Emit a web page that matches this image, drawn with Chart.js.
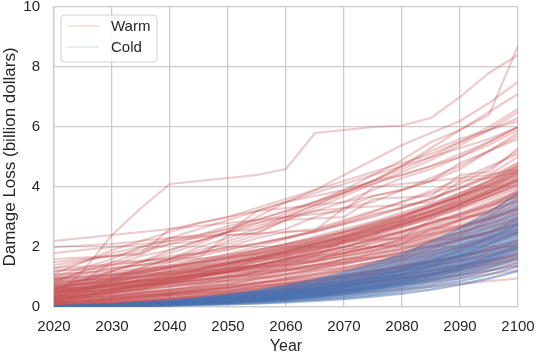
<!DOCTYPE html>
<html><head><meta charset="utf-8">
<script src="https://cdn.jsdelivr.net/npm/chart.js@4/dist/chart.umd.min.js"></script>
<style>html,body{margin:0;padding:0;background:#fff}#wrap{width:536px;height:355px}</style>
</head><body><div id="wrap"><canvas id="c" width="536" height="355"></canvas></div>
<script>
const years = [2020,2025,2030,2035,2040,2045,2050,2055,2060,2065,2070,2075,2080,2085,2090,2095,2100];
const xTicks = [2020,2030,2040,2050,2060,2070,2080,2090,2100];
const yTicks = [0,2,4,6,8,10];
const seriesLabels = ['Warm','Cold'];
const xTitle = 'Year';
const yTitle = 'Damage Loss (billion dollars)';

const warmSeries = [
[0.02,0.04,0.07,0.1,0.13,0.17,0.21,0.26,0.31,0.37,0.44,0.51,0.59,0.68,0.77,0.86,0.95],
[0.04,0.06,0.09,0.13,0.17,0.22,0.27,0.33,0.4,0.47,0.55,0.64,0.74,0.84,0.96,1.1,1.22],
[0.08,0.1,0.13,0.17,0.21,0.26,0.32,0.38,0.45,0.53,0.62,0.71,0.82,0.94,1.07,1.22,1.38],
[0.01,0.03,0.06,0.1,0.14,0.19,0.25,0.31,0.38,0.46,0.55,0.65,0.77,0.9,1.05,1.22,1.4],
[0.12,0.15,0.19,0.23,0.28,0.33,0.39,0.46,0.53,0.6,0.7,0.8,0.91,1.03,1.17,1.33,1.5],
[0.18,0.21,0.25,0.3,0.35,0.4,0.46,0.53,0.6,0.68,0.77,0.87,0.98,1.1,1.24,1.4,1.58],
[0.05,0.08,0.12,0.17,0.22,0.28,0.35,0.42,0.5,0.6,0.7,0.82,0.95,1.1,1.27,1.45,1.65],
[0.25,0.28,0.32,0.37,0.42,0.47,0.53,0.6,0.68,0.76,0.86,0.96,1.08,1.2,1.35,1.52,1.7],
[0.1,0.14,0.19,0.24,0.3,0.37,0.44,0.52,0.61,0.71,0.82,0.94,1.07,1.22,1.38,1.56,1.76],
[0.32,0.35,0.4,0.44,0.5,0.56,0.62,0.7,0.78,0.88,0.98,1.1,1.23,1.37,1.53,1.7,1.9],
[0.15,0.19,0.24,0.3,0.37,0.44,0.52,0.61,0.71,0.82,0.94,1.07,1.21,1.37,1.54,1.73,1.95],
[0.06,0.1,0.15,0.21,0.28,0.36,0.45,0.55,0.66,0.78,0.91,1.05,1.21,1.38,1.57,1.78,2.0],
[0.4,0.43,0.47,0.52,0.58,0.64,0.71,0.79,0.88,0.98,1.09,1.21,1.35,1.5,1.67,1.86,2.06],
[0.2,0.25,0.31,0.37,0.44,0.52,0.6,0.7,0.8,0.92,1.05,1.19,1.34,1.51,1.7,1.9,2.12],
[0.03,0.08,0.14,0.21,0.29,0.38,0.48,0.6,0.73,0.87,1.03,1.2,1.4,1.62,1.86,2.12,2.4],
[0.28,0.33,0.4,0.47,0.55,0.64,0.74,0.85,0.97,1.1,1.25,1.41,1.59,1.79,2.0,2.24,2.5],
[0.48,0.52,0.57,0.63,0.7,0.78,0.87,0.97,1.08,1.2,1.34,1.49,1.66,1.85,2.06,2.3,2.55],
[0.14,0.2,0.27,0.35,0.44,0.54,0.65,0.78,0.92,1.07,1.24,1.42,1.62,1.84,2.08,2.34,2.62],
[0.36,0.42,0.49,0.57,0.66,0.76,0.87,0.99,1.12,1.27,1.43,1.6,1.8,2.01,2.25,2.5,2.78],
[0.6,0.64,0.7,0.76,0.84,0.92,1.01,1.12,1.23,1.36,1.5,1.66,1.84,2.04,2.26,2.5,2.76],
[0.09,0.15,0.23,0.32,0.42,0.53,0.66,0.8,0.95,1.12,1.3,1.5,1.72,1.96,2.22,2.5,2.82],
[0.22,0.3,0.38,0.47,0.57,0.68,0.8,0.94,1.09,1.25,1.43,1.63,1.84,2.08,2.34,2.62,2.92],
[0.5,0.56,0.63,0.71,0.8,0.9,1.01,1.13,1.26,1.41,1.57,1.75,1.94,2.15,2.4,2.66,2.95],
[0.75,0.78,0.84,0.9,0.98,1.07,1.17,1.28,1.4,1.54,1.69,1.86,2.04,2.25,2.48,2.73,3.0],
[0.12,0.19,0.28,0.38,0.49,0.62,0.76,0.92,1.09,1.28,1.48,1.7,1.94,2.2,2.48,2.78,3.1],
[0.33,0.4,0.48,0.58,0.68,0.8,0.93,1.07,1.22,1.39,1.57,1.77,1.99,2.23,2.5,2.8,3.12],
[0.42,0.5,0.58,0.68,0.79,0.91,1.04,1.18,1.34,1.51,1.7,1.9,2.12,2.37,2.64,2.93,3.25],
[0.65,0.7,0.78,0.86,0.96,1.06,1.18,1.31,1.45,1.61,1.78,1.97,2.18,2.42,2.68,2.96,3.28],
[0.18,0.26,0.35,0.46,0.58,0.71,0.86,1.02,1.2,1.4,1.61,1.84,2.09,2.36,2.66,2.98,3.32],
[0.85,0.88,0.93,1.0,1.08,1.17,1.27,1.39,1.52,1.66,1.82,2.0,2.2,2.43,2.68,2.96,3.28],
[0.27,0.36,0.46,0.57,0.7,0.84,0.99,1.16,1.34,1.54,1.76,2.0,2.26,2.54,2.84,3.16,3.5],
[0.55,0.63,0.72,0.82,0.94,1.07,1.21,1.36,1.53,1.72,1.92,2.14,2.38,2.64,2.92,3.22,3.56],
[0.38,0.48,0.6,0.73,0.87,1.02,1.19,1.37,1.57,1.78,2.01,2.26,2.53,2.82,3.14,3.48,3.84],
[0.95,1.0,1.07,1.15,1.25,1.36,1.48,1.62,1.77,1.94,2.12,2.33,2.55,2.8,3.07,3.36,3.68],
[0.7,0.78,0.88,0.99,1.12,1.26,1.41,1.58,1.76,1.96,2.18,2.42,2.67,2.95,3.25,3.58,3.94],
[0.24,0.35,0.48,0.63,0.8,0.98,1.18,1.4,1.63,1.88,2.15,2.44,2.75,3.08,3.44,3.82,4.22],
[1.1,1.14,1.2,1.28,1.38,1.5,1.63,1.78,1.94,2.12,2.32,2.54,2.78,3.05,3.34,3.66,4.0],
[0.5,0.62,0.75,0.9,1.06,1.24,1.43,1.64,1.86,2.1,2.36,2.64,2.94,3.26,3.62,4.0,4.4],
[0.9,0.98,1.08,1.2,1.34,1.49,1.66,1.84,2.04,2.26,2.5,2.76,3.04,3.35,3.68,4.04,4.44],
[1.3,1.35,1.42,1.52,1.64,1.78,1.94,2.12,2.32,2.54,2.78,3.04,3.32,3.62,3.96,4.32,4.7],
[0.62,0.78,0.95,1.13,1.33,1.54,1.77,2.01,2.27,2.55,2.85,3.17,3.51,3.87,4.26,4.68,5.1],
[0.8,0.85,1.5,1.55,1.6,1.65,2.4,2.45,2.5,2.55,3.3,3.35,3.4,3.5,4.2,4.3,4.5],
[1.6,1.65,1.7,1.75,2.3,2.35,2.4,2.45,2.9,2.95,3.0,3.6,3.65,3.7,4.4,4.5,5.3],
[0.2,0.5,0.9,1.3,1.6,2.0,2.3,2.6,3.0,3.4,3.8,4.2,4.4,4.7,5.0,5.5,6.0],
[1.0,1.3,1.6,2.0,2.3,2.6,2.9,3.2,3.5,3.7,3.9,4.2,4.7,5.2,5.6,5.9,6.2],
[0.3,1.2,2.4,3.3,4.1,4.2,4.3,4.4,4.6,5.8,5.9,6.0,6.05,6.3,7.0,7.8,8.4],
[2.0,2.05,2.1,2.2,2.3,2.4,2.6,2.8,3.0,3.4,3.8,4.2,4.7,5.3,5.9,6.5,7.1],
[0.5,0.8,1.2,1.5,1.8,2.1,2.5,3.0,3.5,3.9,4.4,4.9,5.4,5.8,6.2,6.8,7.5],
[0.6,0.9,1.2,1.5,1.9,2.2,2.5,2.8,3.1,3.5,3.9,4.4,4.9,5.5,5.9,6.4,8.7],
[1.4,1.55,1.7,1.9,2.1,2.35,2.6,2.9,3.2,3.5,3.85,4.2,4.6,5.0,5.5,6.0,6.6],
[0.3,0.6,0.9,1.2,1.5,1.8,2.2,2.5,2.9,3.3,3.7,4.1,4.5,4.9,5.4,5.9,6.5],
[0.1,0.3,0.35,0.5,0.55,0.7,0.75,0.95,1.0,1.2,1.3,1.5,1.7,1.9,2.3,2.5,2.9],
[0.5,0.55,0.8,0.85,0.9,1.1,1.15,1.2,1.5,1.55,1.9,2.0,2.1,2.6,2.7,3.0,3.6],
[0.05,0.1,0.2,0.25,0.4,0.45,0.5,0.7,0.75,0.8,1.0,1.1,1.4,1.5,1.6,2.0,2.2],
[0.3,0.6,0.65,0.7,0.9,1.0,1.3,1.35,1.4,1.7,1.8,2.2,2.3,2.5,2.9,3.3,3.9],
[0.7,0.75,0.8,1.1,1.15,1.2,1.25,1.6,1.65,1.7,2.2,2.25,2.3,2.9,3.0,3.1,3.8],
[0.15,0.2,0.3,0.4,0.45,0.6,0.65,0.8,0.9,1.0,1.2,1.3,1.5,1.7,2.0,2.3,2.6],
[0.2,0.4,0.6,0.7,0.9,1.1,1.2,1.5,1.7,1.9,2.2,2.4,2.8,3.1,3.4,3.9,4.5],
[0.02,0.05,0.1,0.2,0.3,0.35,0.45,0.5,0.6,0.75,0.85,0.95,1.1,1.3,1.4,1.6,1.8],
[0.6,0.9,1.0,1.1,1.3,1.4,1.6,1.8,2.0,2.2,2.5,2.7,3.0,3.4,3.7,4.2,4.8],
[0.35,0.4,0.5,0.7,0.75,0.8,1.0,1.05,1.3,1.4,1.5,1.8,1.9,2.2,2.4,2.9,3.2],
[0.9,1.1,1.3,1.4,1.6,1.8,2.0,2.3,2.5,2.6,2.9,3.2,3.5,3.8,4.1,4.6,5.2],
[0.08,0.15,0.22,0.3,0.4,0.5,0.55,0.65,0.8,0.9,1.0,1.15,1.3,1.45,1.7,1.9,2.1],
[0.45,0.5,0.55,0.6,0.8,0.85,0.9,1.2,1.25,1.3,1.6,1.65,1.7,2.2,2.3,2.4,3.0],
[1.2,1.3,1.4,1.5,1.7,1.8,2.0,2.1,2.3,2.5,2.8,3.1,3.3,3.6,4.0,4.4,5.0],
[0.25,0.35,0.5,0.65,0.75,0.9,1.05,1.2,1.4,1.55,1.8,2.0,2.3,2.6,2.9,3.2,3.7],
[0.55,0.6,0.7,0.75,0.85,1.0,1.1,1.25,1.4,1.5,1.7,1.9,2.1,2.3,2.6,2.9,3.3],
[0.12,0.18,0.3,0.36,0.48,0.56,0.68,0.8,0.92,1.06,1.2,1.36,1.56,1.74,1.96,2.2,2.45],
[0.8,1.2,1.5,1.8,2.1,2.2,2.5,2.6,2.9,3.2,3.3,3.7,3.9,4.2,4.6,5.2,5.7],
[0.04,0.08,0.12,0.18,0.24,0.3,0.4,0.48,0.56,0.66,0.78,0.9,1.04,1.2,1.36,1.55,1.75],
[0.65,0.68,0.75,0.82,0.9,1.05,1.2,1.3,1.45,1.62,1.8,2.0,2.25,2.45,2.75,3.05,3.4],
[1.5,1.6,1.7,1.8,2.6,2.7,2.8,2.9,3.0,3.1,3.2,4.0,4.1,4.2,4.3,4.4,4.6],
[0.4,0.7,1.0,1.3,1.6,1.9,2.1,2.4,2.6,3.0,3.3,3.5,3.9,4.3,4.7,5.2,5.8],
[0.2,0.22,0.26,0.32,0.38,0.46,0.55,0.64,0.74,0.86,1.0,1.14,1.3,1.48,1.68,1.9,2.15],
[1.8,1.9,2.0,2.1,2.2,2.3,2.5,3.2,3.3,3.4,3.5,3.7,3.9,4.2,4.8,5.2,5.6],
[0.1,0.12,0.16,0.2,0.26,0.32,0.38,0.46,0.54,0.63,0.73,0.84,0.96,1.1,1.25,1.42,1.6],
[0.75,0.9,1.05,1.2,1.4,1.6,1.7,1.9,2.1,2.3,2.5,2.8,3.1,3.4,3.8,4.2,4.6],
[0.3,0.32,0.36,0.42,0.48,0.55,0.63,0.72,0.82,0.94,1.06,1.2,1.36,1.54,1.74,1.96,2.22],
[1.1,1.5,1.9,2.2,2.5,2.8,3.0,3.3,3.6,3.9,4.2,4.5,4.8,5.1,5.5,5.9,6.3],
[0.58,0.62,0.68,0.74,0.82,0.9,0.98,1.08,1.2,1.32,1.46,1.62,1.8,2.0,2.22,2.46,2.72],
[0.0,0.03,0.07,0.12,0.18,0.25,0.32,0.4,0.49,0.59,0.7,0.82,0.96,1.12,1.3,1.5,1.72],
[0.6,0.7,0.85,1.0,1.1,1.25,1.4,1.6,1.8,2.0,2.2,2.45,2.7,3.0,3.3,3.7,4.1],
[0.3,0.45,0.6,0.8,0.95,1.1,1.3,1.5,1.7,1.9,2.15,2.4,2.7,3.0,3.4,3.8,4.3],
[0.9,0.95,1.05,1.15,1.3,1.45,1.6,1.75,1.95,2.15,2.35,2.6,2.85,3.15,3.45,3.8,4.2],
[0.45,0.6,0.75,0.9,1.05,1.2,1.4,1.6,1.8,2.05,2.3,2.55,2.85,3.2,3.55,3.95,4.4],
[0.7,0.8,0.9,1.0,1.2,1.3,1.5,1.7,1.85,2.1,2.3,2.6,2.9,3.2,3.6,4.0,4.5],
[0.2,0.35,0.55,0.75,0.95,1.15,1.35,1.55,1.75,2.0,2.25,2.5,2.8,3.1,3.45,3.8,4.2],
[1.0,1.05,1.15,1.25,1.35,1.5,1.65,1.8,2.0,2.2,2.4,2.65,2.9,3.2,3.5,3.85,4.25],
[0.5,0.55,0.7,0.9,1.0,1.1,1.3,1.4,1.6,1.8,2.0,2.3,2.5,2.8,3.1,3.4,3.8],
[0.8,0.9,1.0,1.15,1.3,1.45,1.65,1.85,2.05,2.25,2.5,2.75,3.05,3.35,3.7,4.05,4.5],
[0.35,0.5,0.65,0.8,1.0,1.2,1.35,1.55,1.8,2.0,2.25,2.5,2.75,3.05,3.4,3.75,4.15],
[0.65,0.75,0.85,1.0,1.15,1.3,1.45,1.65,1.85,2.05,2.25,2.5,2.75,3.05,3.35,3.7,4.05],
[0.15,0.3,0.45,0.6,0.8,1.0,1.15,1.35,1.55,1.75,2.0,2.25,2.5,2.8,3.1,3.45,3.85],
[1.2,1.25,1.3,1.4,1.5,1.6,1.75,1.9,2.1,2.3,2.55,2.8,3.05,3.35,3.7,4.1,4.55],
[0.55,0.65,0.8,0.95,1.1,1.25,1.45,1.65,1.85,2.1,2.35,2.6,2.9,3.2,3.55,3.9,4.35],
[0.4,0.5,0.6,0.75,0.9,1.05,1.2,1.4,1.6,1.8,2.0,2.25,2.5,2.75,3.05,3.4,3.75],
[0.85,0.9,0.95,1.05,1.2,1.35,1.5,1.7,1.9,2.1,2.35,2.65,2.95,3.3,3.65,4.05,4.6],
[0.25,0.4,0.55,0.7,0.85,1.0,1.2,1.4,1.6,1.85,2.1,2.35,2.65,2.95,3.3,3.7,4.1],
[0.75,0.85,0.95,1.05,1.2,1.4,1.55,1.75,1.95,2.2,2.45,2.7,3.0,3.35,3.7,4.1,4.6],
[0.5,0.6,0.75,0.9,1.05,1.25,1.45,1.65,1.9,2.15,2.4,2.7,3.0,3.35,3.75,4.15,4.7],
[0.95,1.0,1.1,1.2,1.35,1.5,1.7,1.9,2.1,2.35,2.6,2.85,3.15,3.45,3.8,4.2,4.7],
[0.3,0.4,0.55,0.7,0.85,1.0,1.15,1.3,1.5,1.7,1.9,2.1,2.35,2.6,2.9,3.2,3.55],
[0.6,0.65,0.75,0.85,0.95,1.1,1.25,1.4,1.6,1.8,2.0,2.2,2.45,2.7,3.0,3.35,3.7],
[1.05,1.15,1.25,1.4,1.55,1.7,1.9,2.1,2.3,2.5,2.75,3.0,3.3,3.6,3.95,4.35,4.8],
[0.45,0.55,0.7,0.85,1.0,1.15,1.3,1.5,1.7,1.95,2.2,2.45,2.75,3.05,3.4,3.8,4.25],
[0.7,0.78,0.9,1.02,1.16,1.3,1.46,1.64,1.84,2.06,2.3,2.56,2.84,3.16,3.5,3.88,4.3],
[1.3,1.5,1.8,2.0,2.2,2.4,2.7,2.9,3.2,3.5,3.8,4.1,4.4,4.7,5.1,5.5,6.0],
[0.9,1.2,1.4,1.7,1.9,2.2,2.5,2.7,3.0,3.2,3.5,3.9,4.3,4.6,5.0,5.4,5.9],
[2.2,2.3,2.4,2.5,2.6,2.8,3.0,3.2,3.5,3.8,4.1,4.4,4.7,5.0,5.3,5.6,6.0]
];

const coldSeries = [
[0,0.01,0.02,0.03,0.05,0.07,0.09,0.12,0.16,0.21,0.27,0.35,0.45,0.58,0.75,0.95,1.2],
[0,0.01,0.02,0.04,0.06,0.08,0.11,0.14,0.19,0.25,0.32,0.41,0.53,0.68,0.86,1.08,1.35],
[0.01,0.02,0.03,0.05,0.07,0.1,0.13,0.17,0.22,0.29,0.37,0.47,0.6,0.76,0.96,1.2,1.48],
[0,0.01,0.03,0.05,0.07,0.1,0.14,0.19,0.25,0.32,0.41,0.52,0.66,0.84,1.05,1.3,1.6],
[0.01,0.02,0.04,0.06,0.08,0.11,0.15,0.2,0.26,0.34,0.44,0.56,0.71,0.89,1.1,1.36,1.68],
[0,0.02,0.03,0.05,0.08,0.12,0.16,0.21,0.28,0.36,0.46,0.58,0.74,0.93,1.16,1.44,1.78],
[0.01,0.02,0.04,0.06,0.09,0.12,0.17,0.22,0.29,0.38,0.49,0.62,0.78,0.98,1.22,1.5,1.85],
[0,0.01,0.03,0.05,0.08,0.11,0.15,0.21,0.28,0.37,0.48,0.62,0.79,1.0,1.25,1.56,1.92],
[0.01,0.03,0.05,0.07,0.1,0.14,0.19,0.25,0.33,0.42,0.53,0.67,0.84,1.05,1.3,1.6,1.98],
[0,0.02,0.04,0.06,0.09,0.13,0.18,0.24,0.32,0.42,0.54,0.69,0.87,1.09,1.36,1.68,2.05],
[0.01,0.02,0.04,0.07,0.1,0.14,0.19,0.26,0.34,0.44,0.57,0.72,0.9,1.13,1.4,1.73,2.12],
[0,0.01,0.03,0.06,0.09,0.13,0.18,0.25,0.34,0.45,0.58,0.74,0.94,1.18,1.46,1.8,2.2],
[0.01,0.03,0.05,0.08,0.11,0.15,0.21,0.28,0.37,0.48,0.61,0.77,0.97,1.21,1.5,1.85,2.26],
[0.02,0.03,0.05,0.08,0.12,0.17,0.23,0.3,0.39,0.5,0.64,0.81,1.01,1.26,1.56,1.92,2.33],
[0,0.02,0.04,0.07,0.11,0.16,0.22,0.3,0.4,0.52,0.66,0.83,1.04,1.3,1.61,1.98,2.4],
[0.01,0.02,0.05,0.08,0.12,0.17,0.23,0.31,0.41,0.53,0.68,0.86,1.08,1.35,1.67,2.05,2.48],
[0.01,0.03,0.05,0.09,0.13,0.18,0.25,0.33,0.43,0.56,0.71,0.9,1.13,1.4,1.73,2.12,2.55],
[0,0.02,0.04,0.08,0.12,0.18,0.25,0.34,0.45,0.58,0.74,0.94,1.17,1.45,1.79,2.19,2.62],
[0.02,0.04,0.06,0.09,0.14,0.19,0.26,0.35,0.46,0.59,0.75,0.95,1.19,1.48,1.83,2.24,2.7],
[0.01,0.03,0.06,0.1,0.14,0.2,0.28,0.37,0.48,0.62,0.79,1.0,1.24,1.54,1.9,2.31,2.78],
[0,0.02,0.05,0.09,0.14,0.2,0.28,0.38,0.5,0.65,0.82,1.03,1.28,1.59,1.96,2.39,2.86],
[0.01,0.03,0.06,0.1,0.15,0.21,0.29,0.39,0.52,0.67,0.85,1.07,1.33,1.65,2.02,2.46,2.95],
[0.02,0.04,0.07,0.11,0.16,0.23,0.31,0.41,0.54,0.7,0.88,1.1,1.37,1.7,2.09,2.54,3.05],
[0.01,0.03,0.06,0.1,0.16,0.23,0.32,0.43,0.56,0.72,0.92,1.15,1.43,1.77,2.17,2.63,3.15],
[0.02,0.04,0.07,0.12,0.17,0.24,0.33,0.44,0.58,0.75,0.95,1.19,1.48,1.83,2.24,2.72,3.25],
[0.01,0.03,0.07,0.12,0.18,0.26,0.35,0.47,0.61,0.79,1.0,1.25,1.55,1.91,2.33,2.82,3.38],
[0.02,0.05,0.08,0.13,0.19,0.27,0.37,0.49,0.64,0.82,1.04,1.3,1.61,1.98,2.42,2.93,3.5],
[0.02,0.04,0.08,0.13,0.2,0.28,0.39,0.52,0.68,0.87,1.1,1.37,1.69,2.07,2.52,3.04,3.65],
[0.03,0.05,0.09,0.14,0.21,0.3,0.41,0.55,0.72,0.92,1.16,1.44,1.77,2.16,2.62,3.16,3.8],
[0.01,0.02,0.04,0.06,0.09,0.12,0.16,0.22,0.3,0.4,0.52,0.67,0.85,1.07,1.34,1.66,2.02],
[0.01,0.03,0.05,0.08,0.12,0.16,0.22,0.3,0.4,0.52,0.67,0.86,1.09,1.37,1.7,2.1,2.5],
[0.02,0.04,0.06,0.1,0.14,0.2,0.27,0.36,0.47,0.61,0.78,0.99,1.24,1.54,1.9,2.3,2.75]
];

const WARM = 'rgba(196,78,82,0.3)';
const COLD = 'rgba(76,114,176,0.5)';
const WARM_LEG = 'rgba(196,78,82,0.2)';
const COLD_LEG = 'rgba(76,114,176,0.2)';
const FONT = "'Liberation Sans', Arial, Helvetica, sans-serif";
const TXT = '#262626';
const GRID = '#cccccc';

function toPts(vals){ return vals.map((v,i)=>({x:years[i], y:v})); }

const datasets = [];
warmSeries.forEach((s)=>datasets.push({label:seriesLabels[0], data:toPts(s), borderColor:WARM, borderWidth:2.2, pointRadius:0, tension:0, fill:false, order:1}));
coldSeries.forEach((s)=>datasets.push({label:seriesLabels[1], data:toPts(s), borderColor:COLD, borderWidth:2.5, pointRadius:0, tension:0, fill:false, order:0}));

const legendPlugin = {
  id:'boxLegend',
  afterDraw(chart){
    const ctx = chart.ctx;
    const a = chart.chartArea;
    const x0 = a.left + 7, y0 = a.top + 8, w = 96, h = 47, r = 4;
    ctx.save();
    ctx.beginPath();
    ctx.moveTo(x0+r,y0); ctx.lineTo(x0+w-r,y0); ctx.arcTo(x0+w,y0,x0+w,y0+r,r);
    ctx.lineTo(x0+w,y0+h-r); ctx.arcTo(x0+w,y0+h,x0+w-r,y0+h,r);
    ctx.lineTo(x0+r,y0+h); ctx.arcTo(x0,y0+h,x0,y0+h-r,r);
    ctx.lineTo(x0,y0+r); ctx.arcTo(x0,y0,x0+r,y0,r); ctx.closePath();
    ctx.fillStyle='rgba(255,255,255,0.8)'; ctx.fill();
    ctx.strokeStyle='#d0d0d0'; ctx.lineWidth=1; ctx.stroke();
    const items = [[seriesLabels[0], WARM_LEG],[seriesLabels[1], COLD_LEG]];
    items.forEach((it,i)=>{
      const cy = y0 + 11 + i*21;
      ctx.beginPath(); ctx.moveTo(x0+6,cy); ctx.lineTo(x0+38,cy);
      ctx.strokeStyle=it[1]; ctx.lineWidth=1.5; ctx.stroke();
      ctx.fillStyle=TXT; ctx.font='15px '+FONT; ctx.textBaseline='middle'; ctx.textAlign='left';
      ctx.fillText(it[0], x0+50, cy+1);
    });
    ctx.restore();
  }
};

Chart.defaults.font.family = FONT;
Chart.defaults.color = TXT;

new Chart(document.getElementById('c'), {
  type:'line',
  data:{datasets},
  options:{
    responsive:false, animation:false, devicePixelRatio:1,
    layout:{padding:{left:0,right:18,top:7,bottom:0}},
    plugins:{legend:{display:false}, tooltip:{enabled:false}},
    scales:{
      x:{type:'linear', min:2020, max:2100,
        afterBuildTicks:(s)=>{ s.ticks = xTicks.map(v=>({value:v})); },
        afterFit:(s)=>{ s.height = 48; s.paddingLeft = 0; s.paddingRight = 0; },
        ticks:{padding:11, font:{size:15}, color:TXT, maxRotation:0, autoSkip:false, callback:(v)=>String(v)},
        grid:{color:GRID, lineWidth:1.3, drawTicks:false},
        border:{color:GRID, width:1.3},
        title:{display:true, text:xTitle, font:{size:16, lineHeight:1}, color:TXT, padding:{top:0,bottom:0}}
      },
      y:{type:'linear', min:0, max:10,
        afterBuildTicks:(s)=>{ s.ticks = yTicks.map(v=>({value:v})); },
        afterFit:(s)=>{ s.width = 54; s.paddingTop = 0; s.paddingBottom = 0; },
        ticks:{padding:14, font:{size:15}, color:TXT, callback:(v)=>String(v)},
        grid:{color:GRID, lineWidth:1.3, drawTicks:false},
        border:{color:GRID, width:1.3},
        title:{display:true, text:yTitle, font:{size:17, lineHeight:1}, color:TXT, padding:{top:2,bottom:0}}
      }
    }
  },
  plugins:[legendPlugin]
});
</script>
</body></html>
